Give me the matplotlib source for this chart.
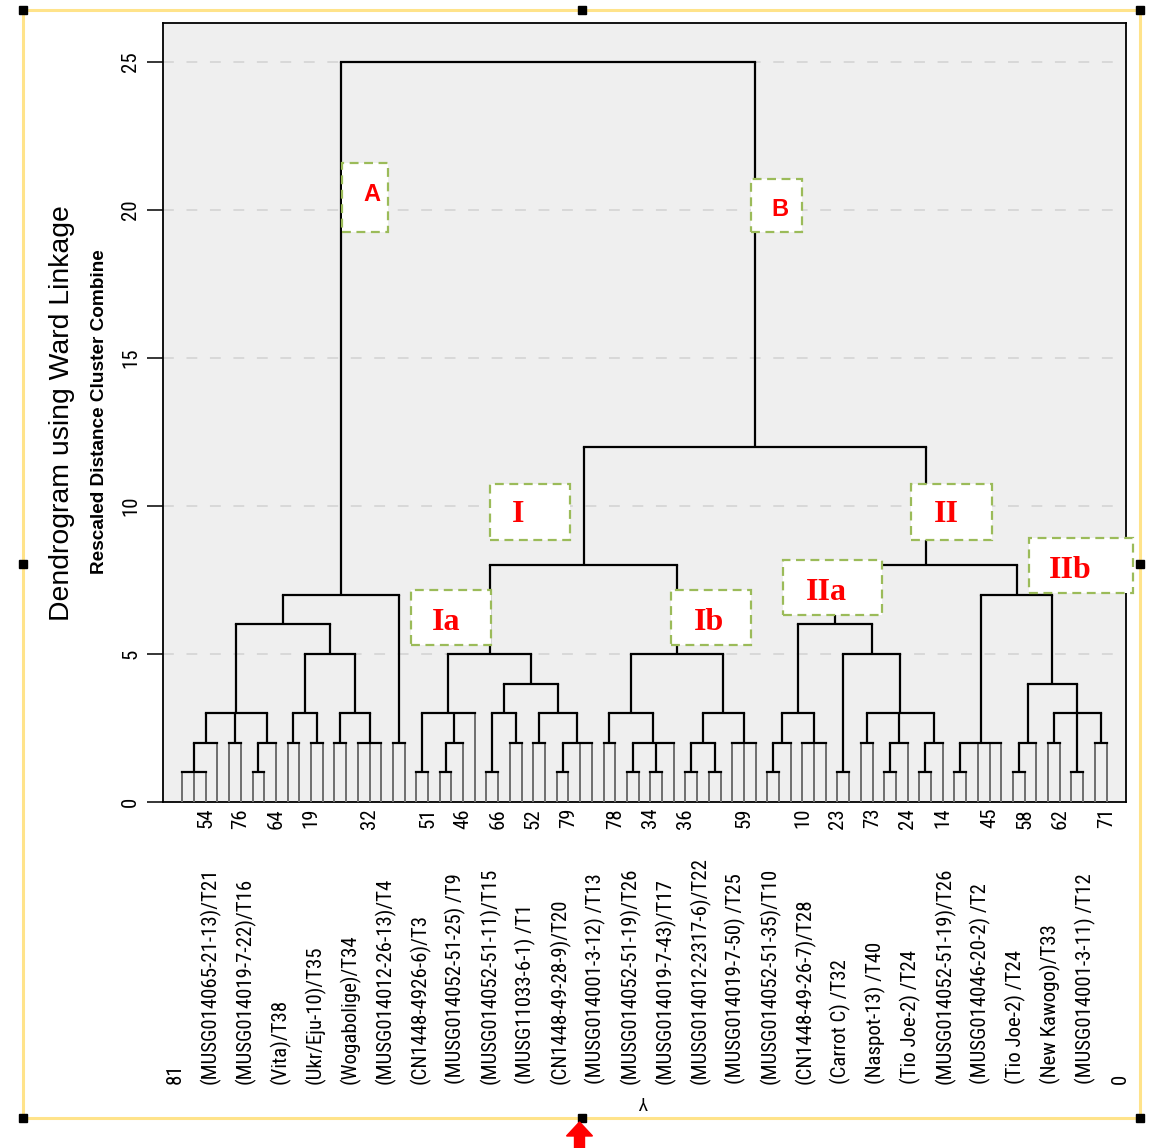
import matplotlib
matplotlib.use('Agg')
import matplotlib.pyplot as plt
from matplotlib import font_manager
from matplotlib.patches import Rectangle, Polygon
from matplotlib.transforms import blended_transform_factory

W, H = 1160, 1148

# ---------------- data ----------------
y_ticks = [0, 5, 10, 15, 20, 25]
# sub-trees: [merge height, child, child, ...]; integers are leaf slots 0..79
cluster_A = [7,
             [6,
              [3, [2, [1, 0, 1, 2], 3], [2, 4, 5], [2, [1, 6, 7], 8]],
              [5, [3, [2, 9, 10], [2, 11, 12]], [3, [2, 13, 14], [2, 15, 16, 17]]]],
             [2, 18, 19]]
cluster_Ia = [5,
              [3, [1, 20, 21], [2, [1, 22, 23], 24], 25],
              [4, [3, [1, 26, 27], [2, 28, 29]], [3, [2, 30, 31], [2, [1, 32, 33], 34, 35]]]]
cluster_Ib = [5,
              [3, [2, 36, 37], [2, [1, 38, 39], [1, 40, 41], 42]],
              [3, [2, [1, 43, 44], [1, 45, 46]], [2, 47, 48, 49]]]
cluster_IIa = [6,
               [3, [2, [1, 50, 51], 52], [2, 53, 54, 55]],
               [5, [1, 56, 57], [3, [2, 58, 59], [2, [1, 60, 61], 62], [2, [1, 63, 64], 65]]]]
cluster_IIb = [7,
               [2, [1, 66, 67], 68, 69, 70],
               [4, [2, [1, 71, 72], 73], [3, [2, 74, 75], [1, 76, 77], [2, 78, 79]]]]
height_I = 8
height_II = 8
height_B = 12
height_root = 25

leaf_number_text = ["54", "76", "64", "19", "32", "51", "46", "66", "52", "79", "78", "34",
                    "36", "59", "10", "23", "73", "24", "14", "45", "58", "62", "71"]
leaf_number_slot = [2, 5, 8, 11, 16, 21, 24, 27, 30, 33, 37, 40,
                    43, 48, 53, 56, 59, 62, 65, 69, 72, 75, 79]

case_labels = ["81",
               "(MUSG014065-21-13)/T21", "(MUSG014019-7-22)/T16", "(Vita)/T38",
               "(Ukr/Eju-10)/T35", "(Wogabolige)/T34", "(MUSG014012-26-13)/T4",
               "(CN1448-4926-6)/T3", "(MUSG014052-51-25) /T9", "(MUSG014052-51-11)/T15",
               "(MUSG11033-6-1) /T1", "(CN1448-49-28-9)/T20", "(MUSG014001-3-12) /T13",
               "(MUSG014052-51-19)/T26", "(MUSG014019-7-43)/T17", "(MUSG014012-2317-6)/T22",
               "(MUSG014019-7-50) /T25", "(MUSG014052-51-35)/T10", "(CN1448-49-26-7)/T28",
               "(Carrot C) /T32", "(Naspot-13) /T40", "(Tio Joe-2) /T24",
               "(MUSG014052-51-19)/T26", "(MUSG014046-20-2) /T2", "(Tio Joe-2) /T24",
               "(New Kawogo)/T33", "(MUSG014001-3-11) /T12", "0"]

box_names = ["A", "B", "I", "II", "Ia", "Ib", "IIa", "IIb"]

# ---------------- fonts ----------------
entries = font_manager.fontManager.ttflist
names = {f.name for f in entries}
narrow_family, narrow_stretch, narrow_found = None, 'normal', False
for cand in ['Liberation Sans Narrow', 'Arial Narrow', 'Roboto Condensed',
             'Noto Sans Condensed', 'Open Sans Condensed', 'DejaVu Sans Condensed']:
    if cand in names:
        narrow_family, narrow_found = cand, True
        break
if not narrow_found:
    for fam in ['DejaVu Sans', 'Noto Sans', 'Open Sans', 'Roboto']:
        if any(f.name == fam and str(f.stretch) in ('condensed', 'semi-condensed', '75', '87')
               and f.style == 'normal' for f in entries):
            narrow_family, narrow_stretch, narrow_found = fam, 'condensed', True
            break
if not narrow_found:
    narrow_family = 'Liberation Sans'

NARROW = [narrow_family, 'DejaVu Sans']
SANS = ['Liberation Sans', 'DejaVu Sans']
SERIF = ['Liberation Serif', 'DejaVu Serif']
lab_size = 15 if narrow_found else 13
num_size = 15 if narrow_found else 14


def fx(x):
    return x / W


def fy(y):
    return 1 - y / H


fig = plt.figure(figsize=(W / 100, H / 100), dpi=100)
fig.patch.set_facecolor('white')

ax_left, ax_right, ax_top, ax_bottom = 163, 1126, 23, 802
ax = fig.add_axes([fx(ax_left), fy(ax_bottom), (ax_right - ax_left) / W, (ax_bottom - ax_top) / H])
ax.set_facecolor('#efefef')

leaf0_px, leaf_step_px = 182.3, 11.7
px_per_unit = (802 - 62) / 25.0
ax.set_xlim((ax_left - leaf0_px) / leaf_step_px, (ax_right - leaf0_px) / leaf_step_px)
ax.set_ylim(0, 25 + (62 - ax_top) / px_per_unit)

for s in ax.spines.values():
    s.set_color('black')
    s.set_linewidth(1.3)

ax.set_yticks(y_ticks)
ax.set_yticklabels([str(t) for t in y_ticks], rotation=90, va='center',
                   fontsize=num_size, family=NARROW, fontstretch=narrow_stretch)
ax.tick_params(axis='y', length=11.5, width=1.1, pad=5, direction='out')
ax.set_xticks([])
ax.yaxis.grid(True, color='#d6d6d6', linestyle=(0, (6, 7)), linewidth=1.3)
ax.set_axisbelow(True)

LINE = 'black'
STEM = '#6e6e6e'


def draw(node):
    if isinstance(node, int):
        return float(node), 0.0, True
    h = node[0]
    kids = [draw(c) for c in node[1:]]
    xs = [k[0] for k in kids]
    for x, hk, is_leaf in kids:
        ax.plot([x, x], [hk, h], color=STEM if is_leaf else LINE,
                lw=1.4 if is_leaf else 1.6, solid_capstyle='butt', zorder=3)
    ax.plot([min(xs), max(xs)], [h, h], color=LINE, lw=1.6,
            solid_capstyle='projecting', zorder=4)
    return (min(xs) + max(xs)) / 2.0, h, False


tree_I = [height_I, cluster_Ia, cluster_Ib]
tree_II = [height_II, cluster_IIa, cluster_IIb]
tree_B = [height_B, tree_I, tree_II]
tree_root = [height_root, cluster_A, tree_B]
draw(tree_root)

# leaf numbers under the axis
for s, slot in zip(leaf_number_text, leaf_number_slot):
    ax.text(slot, -6 / px_per_unit, s, rotation=90, ha='center', va='top',
            fontsize=num_size, family=NARROW, fontstretch=narrow_stretch)

# case labels
trans = blended_transform_factory(ax.transData, fig.transFigure)
first_x = (175 - leaf0_px) / leaf_step_px
step_x = 35 / leaf_step_px
for k, s in enumerate(case_labels):
    ax.text(first_x + k * step_x, fy(1084), s, rotation=90, ha='center', va='bottom',
            fontsize=lab_size, family=NARROW, fontstretch=narrow_stretch, transform=trans)

fig.text(fx(643), fy(1101), "Y", rotation=180, ha='center', va='center',
         fontsize=13, family=NARROW, fontstretch=narrow_stretch)

# axis titles
fig.text(fx(62), fy(413), "Dendrogram using Ward Linkage", rotation=90,
         ha='center', va='center', fontsize=20.4, family=SANS)
fig.text(fx(100), fy(412), "Rescaled Distance Cluster Combine", rotation=90,
         ha='center', va='center', fontsize=13.7, family=SANS, fontweight='bold')

# cluster boxes (pixel boxes and text anchor)
box_geom = {
    "A": (342, 163, 388, 232, 372, 194),
    "B": (751, 179, 802, 232, 780, 209),
    "I": (490, 484, 570, 540, 518, 515),
    "II": (911, 484, 992, 540, 946, 515),
    "Ia": (411, 590, 491, 645, 446, 622),
    "Ib": (671, 590, 751, 645, 709, 622),
    "IIa": (783, 560, 882, 615, 826, 592),
    "IIb": (1029, 538, 1133, 593, 1070, 570),
}
for name in box_names:
    x0, y0, x1, y1, tx, ty = box_geom[name]
    fig.add_artist(Rectangle((fx(x0), fy(y1)), (x1 - x0) / W, (y1 - y0) / H,
                             transform=fig.transFigure, facecolor='white',
                             edgecolor='#9bbb59', lw=1.6, linestyle=(0, (4, 2.5)),
                             zorder=10))
    if name in ("A", "B"):
        fig.text(fx(tx), fy(ty), name, color='#ff0000', ha='center', va='center',
                 fontsize=17, family=SANS, fontweight='bold', zorder=11)
    else:
        fig.text(fx(tx), fy(ty), name, color='#ff0000', ha='center', va='center',
                 fontsize=23, family=SERIF, fontweight='bold', zorder=11)

# selection frame with handles
fl, ft, fr, fb = 23, 10, 1140, 1118
frame = Rectangle((fx(fl), fy(fb)), (fr - fl) / W, (fb - ft) / H, transform=fig.transFigure,
                  fill=False, edgecolor='#ffe38a', lw=2.2, zorder=12)
fig.add_artist(frame)
hs = 8
for hx, hy in [(fl, ft), ((fl + fr) / 2, ft), (fr, ft), (fl, (ft + fb) / 2), (fr, (ft + fb) / 2),
               (fl, fb), ((fl + fr) / 2, fb), (fr, fb)]:
    fig.add_artist(Rectangle((fx(hx - hs / 2), fy(hy + hs / 2)), hs / W, hs / H,
                             transform=fig.transFigure, facecolor='black',
                             edgecolor='black', zorder=13))
ax_x = (fl + fr) / 2 - 2
arrow = [(ax_x, 1122), (ax_x - 13, 1136), (ax_x - 5, 1136), (ax_x - 5, 1148),
         (ax_x + 5, 1148), (ax_x + 5, 1136), (ax_x + 13, 1136)]
fig.add_artist(Polygon([(fx(a), fy(b)) for a, b in arrow], closed=True,
                       transform=fig.transFigure, facecolor='#ff0000',
                       edgecolor='#ff0000', zorder=13))

fig.savefig('out.png', dpi=100)
